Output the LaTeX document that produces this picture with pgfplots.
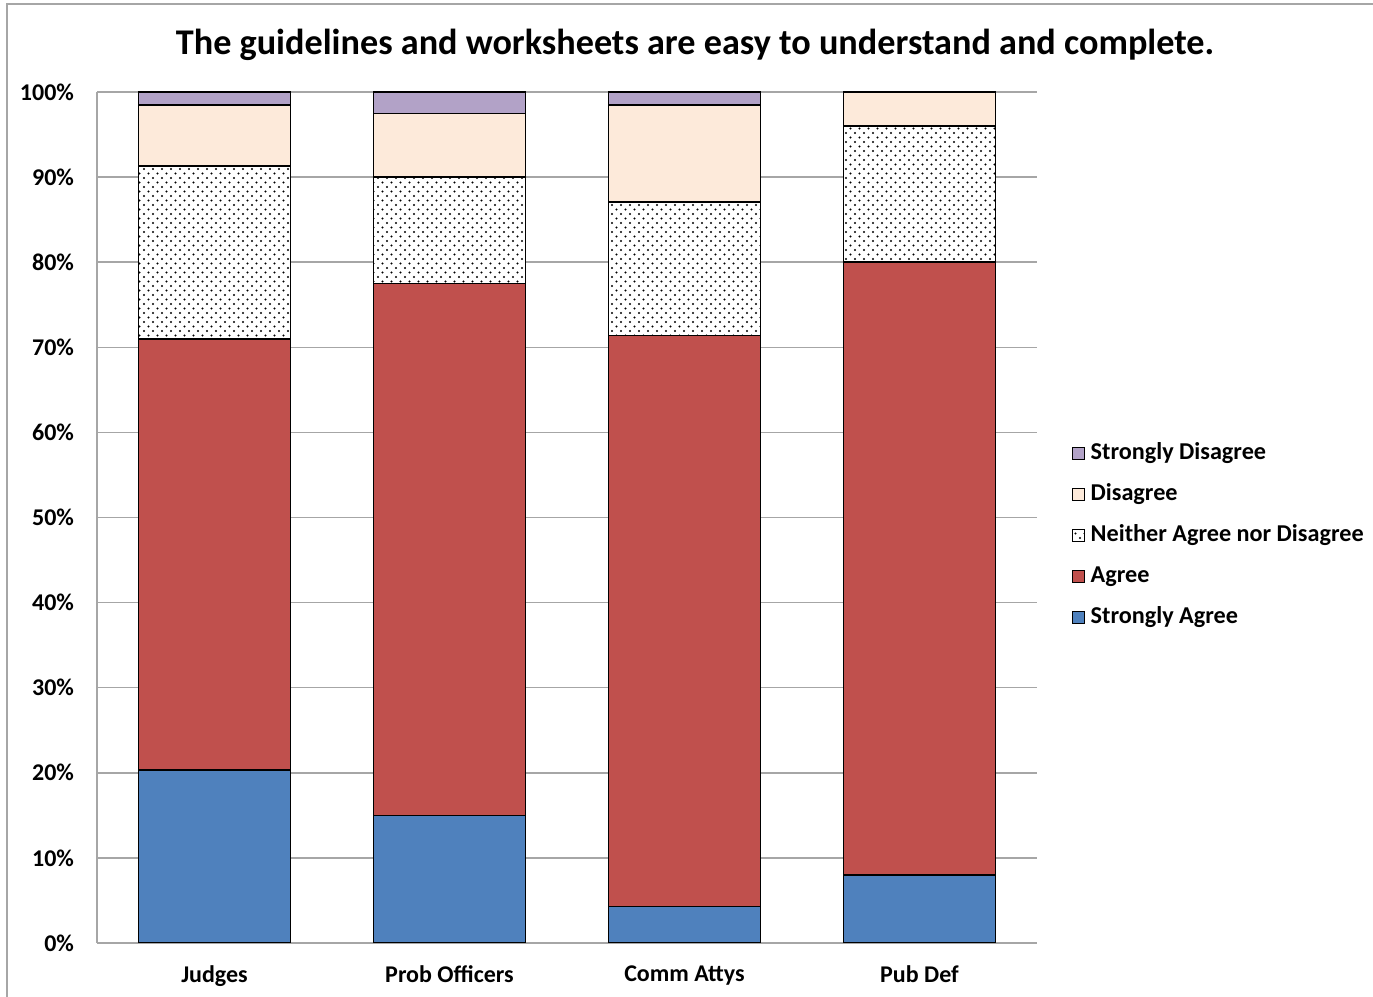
\documentclass[border=0pt]{standalone}
\usepackage{fontspec}
\setmainfont{Carlito}
\usepackage{pgfplots}
\pgfplotsset{compat=1.18}
\usetikzlibrary{patterns}
\definecolor{sa}{HTML}{4F81BD}
\definecolor{ag}{HTML}{C0504D}
\definecolor{di}{HTML}{FDEADA}
\definecolor{sd}{HTML}{B2A2C7}
\definecolor{gridc}{HTML}{A6A6A6}
\pgfdeclarepatternformonly{mydots}{\pgfqpoint{-1pt}{-1pt}}{\pgfqpoint{5.5pt}{5.5pt}}{\pgfqpoint{4.5pt}{4.5pt}}{%
  \pgfpathcircle{\pgfqpoint{0pt}{0pt}}{0.55pt}%
  \pgfpathcircle{\pgfqpoint{2.25pt}{2.25pt}}{0.55pt}%
  \pgfusepath{fill}}
\pgfplotsset{sqlegend/.style={legend image code/.code={\draw[##1,line width=0.5pt] (0pt,-3pt) rectangle (6pt,3pt);}}}
\begin{document}
\begin{tikzpicture}
\useasboundingbox (0,0) rectangle (686.5pt,498.5pt);
\draw[gridc, line width=0.75pt] (3.5pt,0) -- (3.5pt,496.5pt) -- (686.5pt,496.5pt);
\node[font=\bfseries\fontsize{18.1}{22}\selectfont] at (347.5pt,476pt) {The guidelines and worksheets are easy to understand and complete.};
\begin{axis}[at={(48.5pt,27pt)}, anchor=south west, scale only axis, width=470pt, height=425.5pt,
 ybar stacked, bar width=76pt, xmin=-0.5, xmax=3.5, ymin=0, ymax=100,
 xtick={0,1,2,3}, xticklabels={Judges,Prob Officers,Comm Attys,Pub Def},
 ytick={0,10,...,100}, yticklabels={0\%,10\%,20\%,30\%,40\%,50\%,60\%,70\%,80\%,90\%,100\%},
 ymajorgrids, grid style={gridc, line width=0.75pt},
 axis lines*=left, axis line style={gridc, line width=0.75pt},
 major tick length=0pt,
 ticklabel style={font=\bfseries\fontsize{12}{14}\selectfont},
 yticklabel style={xshift=-8pt},
 xticklabel style={yshift=-8pt},
 legend cell align=left,
 legend style={at={(1.037,0.479)}, anchor=west, draw=none, fill=none, inner sep=0pt,
   font=\bfseries\fontsize{12.1}{14}\selectfont, row sep=6pt,
   nodes={inner sep=1.75pt, text height=8.5pt, text depth=2.5pt},
   /tikz/every odd column/.append style={column sep=1pt}},
 reverse legend,
]
\addplot[fill=sa, draw=black, line width=0.75pt, sqlegend] coordinates {(0,20.3) (1,15.0) (2,4.3) (3,8.0)};
\addlegendentry{Strongly Agree}
\addplot[fill=ag, draw=black, line width=0.75pt, sqlegend] coordinates {(0,50.7) (1,62.5) (2,67.1) (3,72.0)};
\addlegendentry{Agree}
\addplot[fill=white, postaction={pattern=mydots}, draw=black, line width=0.75pt, sqlegend] coordinates {(0,20.3) (1,12.5) (2,15.7) (3,16.0)};
\addlegendentry{Neither Agree nor Disagree}
\addplot[fill=di, draw=black, line width=0.75pt, sqlegend] coordinates {(0,7.2) (1,7.5) (2,11.4) (3,4.0)};
\addlegendentry{Disagree}
\addplot[fill=sd, draw=black, line width=0.75pt, sqlegend] coordinates {(0,1.5) (1,2.5) (2,1.5) (3,0)};
\addlegendentry{Strongly Disagree}
\end{axis}
\end{tikzpicture}
\end{document}
